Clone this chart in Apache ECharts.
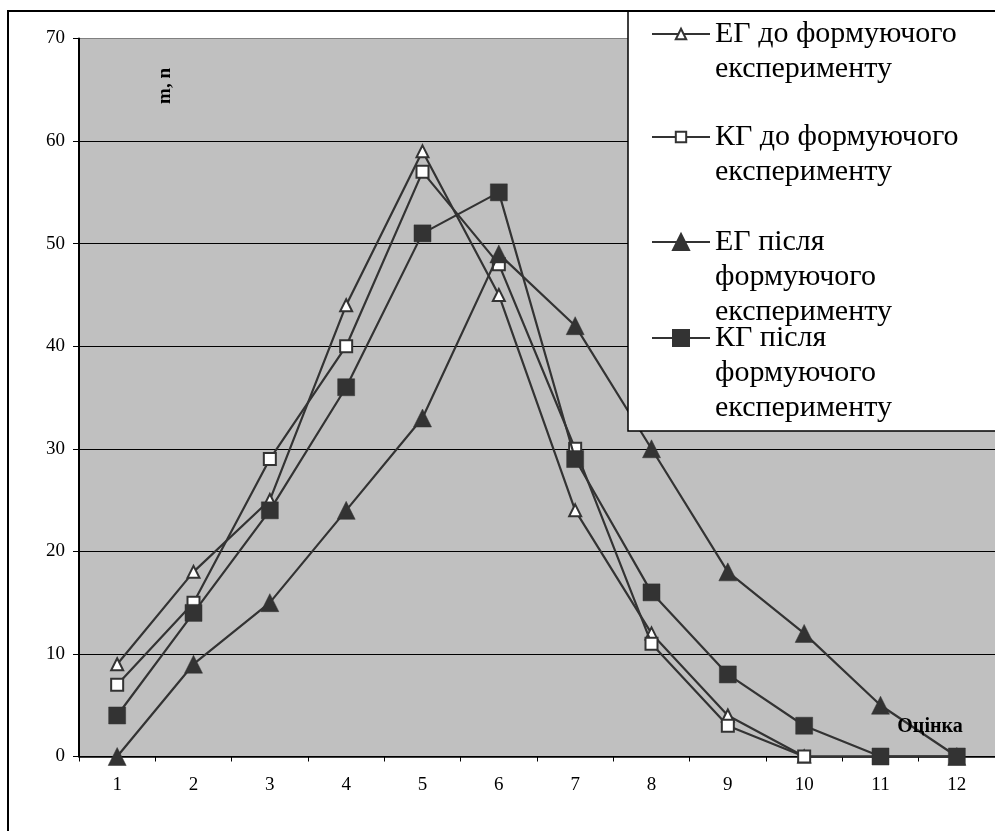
<!DOCTYPE html>
<html>
<head>
<meta charset="utf-8">
<script src="https://cdn.jsdelivr.net/npm/echarts@6/dist/echarts.min.js"></script>
<style>
html,body{margin:0;padding:0;background:#fff;}
#chart{width:995px;height:831px;}
</style>
</head>
<body>
<div id="chart"></div>
<script>
var categories = ['1','2','3','4','5','6','7','8','9','10','11','12'];
var egBefore = [9, 18, 25, 44, 59, 45, 24, 12, 4, 0, 0, 0];
var kgBefore = [7, 15, 29, 40, 57, 48, 30, 11, 3, 0, 0, 0];
var egAfter  = [0, 9, 15, 24, 33, 49, 42, 30, 18, 12, 5, 0];
var kgAfter  = [4, 14, 24, 36, 51, 55, 29, 16, 8, 3, 0, 0];
var seriesNames = [
  'ЕГ до формуючого експерименту',
  'КГ до формуючого експерименту',
  'ЕГ після формуючого експерименту',
  'КГ після формуючого експерименту'
];
var legendLines = [
  ['ЕГ до формуючого', 'експерименту'],
  ['КГ до формуючого', 'експерименту'],
  ['ЕГ після', 'формуючого', 'експерименту'],
  ['КГ після', 'формуючого', 'експерименту']
];
var yAxisName = 'm, n';
var xAxisName = 'Оцінка';

var FONT = '"Liberation Serif", "Times New Roman", serif';
var LINE = '#333333';
var LH = 35;
var legendIconY = [34, 137, 242, 338];
var legendItemH = [13, 13, 20, 20];

var chart = echarts.init(document.getElementById('chart'), null, {renderer: 'canvas'});

function mkSeries(i, data, symbol, size, filled) {
  return {
    name: seriesNames[i],
    type: 'line',
    data: data,
    symbol: symbol,
    symbolSize: size,
    showAllSymbol: true,
    animation: false,
    z: 2 + i * 0.01,
    lineStyle: {color: LINE, width: 2.2},
    itemStyle: filled ? {color: LINE, borderColor: LINE, borderWidth: 0.5}
                      : {color: '#ffffff', borderColor: LINE, borderWidth: 2},
    emphasis: {disabled: true}
  };
}

var legends = seriesNames.map(function (name, i) {
  var n = legendLines[i].length;
  var total = (2 * n - 1) * LH;
  return {
    show: true,
    data: [name],
    orient: 'vertical',
    left: 651,
    top: legendIconY[i] - total / 2,
    padding: 0,
    itemWidth: 58,
    itemHeight: legendItemH[i],
    z: 20,
    textStyle: {fontFamily: FONT, fontSize: 30, color: '#000', lineHeight: LH},
    formatter: function () {
      var pre = '';
      for (var k = 0; k < n - 1; k++) pre += '\n';
      return pre + legendLines[i].join('\n');
    }
  };
});

var option = {
  animation: false,
  backgroundColor: '#ffffff',
  grid: {
    left: 79, right: 0, top: 38.5, bottom: 74.5,
    show: true, backgroundColor: '#c0c0c0', borderWidth: 0,
    containLabel: false
  },
  legend: legends,
  xAxis: {
    type: 'category',
    data: categories,
    boundaryGap: true,
    axisLine: {show: true, lineStyle: {color: '#000', width: 1.5}},
    axisTick: {show: true, length: 5, inside: false, alignWithLabel: false, lineStyle: {color: '#000', width: 1}},
    axisLabel: {fontFamily: FONT, fontSize: 19, color: '#000', margin: 19},
    splitLine: {show: false}
  },
  yAxis: {
    type: 'value',
    min: 0, max: 70, interval: 10,
    axisLine: {show: true, lineStyle: {color: '#000', width: 2}},
    axisTick: {show: true, length: 6, inside: false, lineStyle: {color: '#000', width: 1}},
    axisLabel: {fontFamily: FONT, fontSize: 19, color: '#000', margin: 14},
    splitLine: {show: true, lineStyle: {color: ['#000','#000','#000','#000','#000','#000','#000','#808080'], width: 1}}
  },
  graphic: [
    {type: 'rect', z: 100, silent: true,
      shape: {x: 8, y: 11, width: 1200, height: 1000},
      style: {fill: 'none', stroke: '#000', lineWidth: 2}},
    {type: 'rect', z: 10, silent: true,
      shape: {x: 628, y: 11, width: 500, height: 420},
      style: {fill: '#ffffff', stroke: '#000', lineWidth: 1.5}},
    {type: 'text', z: 15, silent: true, x: 165, y: 86, rotation: Math.PI / 2,
      style: {text: yAxisName, fontFamily: FONT, fontSize: 19, fontWeight: 'bold', fill: '#000', align: 'center', verticalAlign: 'middle'}},
    {type: 'text', z: 15, silent: true, x: 930, y: 727,
      style: {text: xAxisName, fontFamily: FONT, fontSize: 20, fontWeight: 'bold', fill: '#000', align: 'center', verticalAlign: 'middle'}}
  ],
  series: [
    mkSeries(0, egBefore, 'triangle', 12, false),
    mkSeries(1, kgBefore, 'rect', 12, false),
    mkSeries(2, egAfter, 'triangle', 18, true),
    mkSeries(3, kgAfter, 'rect', 17, true)
  ]
};
chart.setOption(option);
</script>
</body>
</html>
